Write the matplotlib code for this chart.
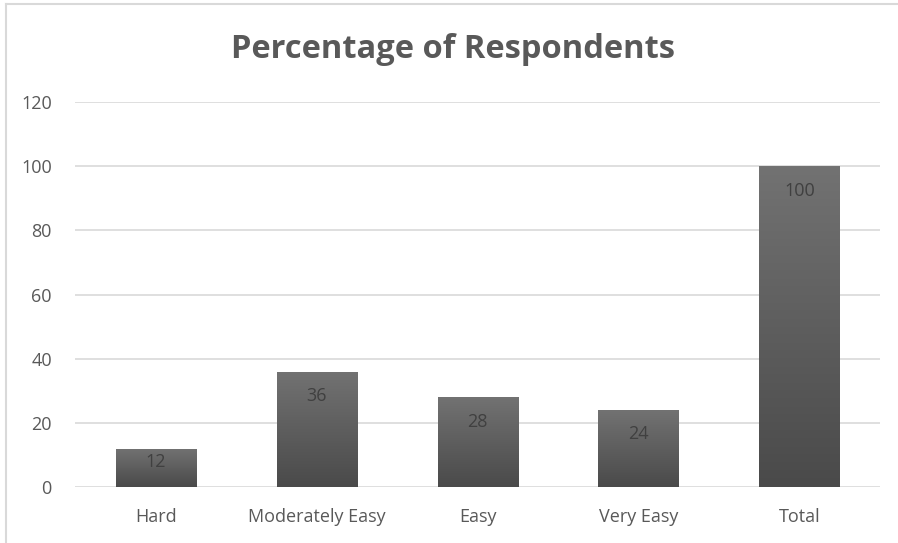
import numpy as np
import matplotlib.pyplot as plt
from matplotlib.colors import LinearSegmentedColormap
from matplotlib.lines import Line2D

categories = ['Hard', 'Moderately Easy', 'Easy', 'Very Easy', 'Total']
values = [12, 36, 28, 24, 100]
yticks = [0, 20, 40, 60, 80, 100, 120]

plt.rcParams['font.family'] = ['Open Sans', 'DejaVu Sans']

fig = plt.figure(figsize=(8.98, 5.43), dpi=100)
ax = fig.add_axes([0.084, 0.103, 0.896, 0.709])

x = np.arange(len(categories))
bars = ax.bar(x, values, width=0.5, color='#5a5a5a', edgecolor='none', zorder=2)

# vertical gradient, lighter at the top
grad = np.linspace(0, 1, 256).reshape(-1, 1)
cmap = LinearSegmentedColormap.from_list('g', ['#4a4a4a', '#727272'])
for b in bars:
    x0, y0 = b.get_x(), b.get_y()
    w, h = b.get_width(), b.get_height()
    im = ax.imshow(grad, cmap=cmap, origin='lower', aspect='auto',
                   extent=(x0, x0 + w, y0, y0 + h), zorder=3)
    im.set_clip_path(b)

# labels sit inside the bar end; short bars get them nearer the middle
for xi, v in zip(x, values):
    ax.text(xi, max(v - 7.6, v * 0.65), str(v), ha='center', va='center',
            fontsize=13, color='#404040', zorder=4)

ax.set_xlim(-0.5, len(categories) - 0.5)
ax.set_ylim(0, 120)
ax.set_yticks(yticks)
ax.set_xticks(x, categories)
ax.grid(axis='y', color='#d9d9d9', linewidth=1.2, zorder=0)
for s in ax.spines.values():
    s.set_visible(False)
ax.tick_params(length=0, labelsize=13, labelcolor='#595959')
ax.tick_params(axis='y', pad=17)
ax.tick_params(axis='x', pad=15)

fig.text(0.505, 0.908, 'Percentage of Respondents', ha='center', va='center',
         fontsize=23.5, fontweight='bold', color='#595959')

# chart border (left and top visible)
fig.add_artist(Line2D([0.0062, 0.0062], [0.0, 0.993], color='#d9d9d9', lw=1.5))
fig.add_artist(Line2D([0.0062, 1.0], [0.993, 0.993], color='#d9d9d9', lw=1.5))

fig.savefig('out.png', dpi=100)
